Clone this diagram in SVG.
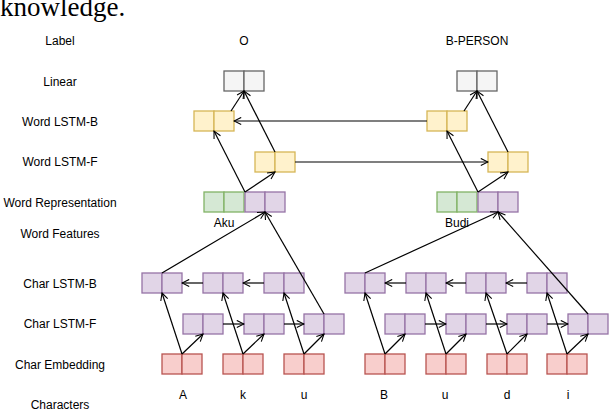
<svg xmlns="http://www.w3.org/2000/svg" width="610" height="410" viewBox="0 0 610 410">
<defs>
<marker id="a" viewBox="0 0 10 10" refX="9" refY="5" markerWidth="9" markerHeight="9" orient="auto" markerUnits="userSpaceOnUse"><path d="M1,1 L9,5 L1,9" fill="none" stroke="#000" stroke-width="1.2"/></marker>
</defs>
<style>
text{font-family:"Liberation Sans",Arial,sans-serif;font-size:12px;fill:#000}
.lab{text-anchor:middle}
rect{stroke-width:1.3}
.g{fill:#f5f5f5;stroke:#666}
.y{fill:#fff2cc;stroke:#d6b656}
.gr{fill:#d5e8d4;stroke:#82b366}
.p{fill:#e1d5e7;stroke:#9673a6}
.r{fill:#f8cecc;stroke:#b85450}
.c path,.c line{stroke:#000;stroke-width:1.2;fill:none;marker-end:url(#a)}
</style>
<rect width="610" height="410" fill="#fff"/>
<text x="0" y="16" style="font-family:'Liberation Serif',serif;font-size:27px">knowledge.</text>
<g id="rowlabels" class="lab">
<text x="60" y="45">Label</text>
<text x="60" y="86">Linear</text>
<text x="60" y="126">Word LSTM-B</text>
<text x="60" y="166">Word LSTM-F</text>
<text x="60" y="207">Word Representation</text>
<text x="60" y="238">Word Features</text>
<text x="60" y="288">Char LSTM-B</text>
<text x="60" y="328">Char LSTM-F</text>
<text x="60" y="369">Char Embedding</text>
<text x="60" y="409">Characters</text>
</g>
<g id="toplabels" class="lab">
<text x="244" y="45">O</text>
<text x="477" y="45">B-PERSON</text>
<text x="224" y="227">Aku</text>
<text x="457" y="227">Budi</text>
</g>
<g id="chars" class="lab">
<text x="183" y="399">A</text><text x="243" y="399">k</text><text x="304" y="399">u</text>
<text x="384" y="399">B</text><text x="445" y="399">u</text><text x="507" y="399">d</text><text x="568" y="399">i</text>
</g>
<g id="linear">
<rect class="g" x="224" y="71" width="20" height="20"/><rect class="g" x="244" y="71" width="20" height="20"/>
<rect class="g" x="457" y="71" width="20" height="20"/><rect class="g" x="477" y="71" width="20" height="20"/>
</g>
<g id="wordB">
<rect class="y" x="194" y="111" width="20" height="20"/><rect class="y" x="214" y="111" width="20" height="20"/>
<rect class="y" x="427" y="111" width="20" height="20"/><rect class="y" x="447" y="111" width="20" height="20"/>
</g>
<g id="wordF">
<rect class="y" x="255" y="152" width="20" height="20"/><rect class="y" x="275" y="152" width="20" height="20"/>
<rect class="y" x="488" y="152" width="20" height="20"/><rect class="y" x="508" y="152" width="20" height="20"/>
</g>
<g id="wordRep">
<rect class="gr" x="204" y="192" width="20" height="20"/><rect class="gr" x="224" y="192" width="20" height="20"/>
<rect class="p" x="245" y="192" width="20" height="20"/><rect class="p" x="265" y="192" width="20" height="20"/>
<rect class="gr" x="437" y="192" width="20" height="20"/><rect class="gr" x="457" y="192" width="20" height="20"/>
<rect class="p" x="478" y="192" width="20" height="20"/><rect class="p" x="498" y="192" width="20" height="20"/>
</g>
<g id="charB">
<rect class="p" x="142" y="273" width="20" height="20"/><rect class="p" x="162" y="273" width="20" height="20"/>
<rect class="p" x="203" y="273" width="20" height="20"/><rect class="p" x="223" y="273" width="20" height="20"/>
<rect class="p" x="264" y="273" width="20" height="20"/><rect class="p" x="284" y="273" width="20" height="20"/>
<rect class="p" x="345" y="273" width="20" height="20"/><rect class="p" x="365" y="273" width="20" height="20"/>
<rect class="p" x="406" y="273" width="20" height="20"/><rect class="p" x="426" y="273" width="20" height="20"/>
<rect class="p" x="466" y="273" width="20" height="20"/><rect class="p" x="486" y="273" width="20" height="20"/>
<rect class="p" x="527" y="273" width="20" height="20"/><rect class="p" x="547" y="273" width="20" height="20"/>
</g>
<g id="charF">
<rect class="p" x="183" y="314" width="20" height="20"/><rect class="p" x="203" y="314" width="20" height="20"/>
<rect class="p" x="244" y="314" width="20" height="20"/><rect class="p" x="264" y="314" width="20" height="20"/>
<rect class="p" x="304" y="314" width="20" height="20"/><rect class="p" x="324" y="314" width="20" height="20"/>
<rect class="p" x="385" y="314" width="20" height="20"/><rect class="p" x="405" y="314" width="20" height="20"/>
<rect class="p" x="446" y="314" width="20" height="20"/><rect class="p" x="466" y="314" width="20" height="20"/>
<rect class="p" x="507" y="314" width="20" height="20"/><rect class="p" x="527" y="314" width="20" height="20"/>
<rect class="p" x="568" y="314" width="20" height="20"/><rect class="p" x="588" y="314" width="20" height="20"/>
</g>
<g id="charEmb">
<rect class="r" x="162" y="354" width="20" height="20"/><rect class="r" x="182" y="354" width="20" height="20"/>
<rect class="r" x="223" y="354" width="20" height="20"/><rect class="r" x="243" y="354" width="20" height="20"/>
<rect class="r" x="284" y="354" width="20" height="20"/><rect class="r" x="304" y="354" width="20" height="20"/>
<rect class="r" x="365" y="354" width="20" height="20"/><rect class="r" x="385" y="354" width="20" height="20"/>
<rect class="r" x="426" y="354" width="20" height="20"/><rect class="r" x="446" y="354" width="20" height="20"/>
<rect class="r" x="487" y="354" width="20" height="20"/><rect class="r" x="507" y="354" width="20" height="20"/>
<rect class="r" x="547" y="354" width="20" height="20"/><rect class="r" x="567" y="354" width="20" height="20"/>
</g>
<g id="connectors" class="c">
<line x1="182" y1="354" x2="203" y2="334"/><line x1="182" y1="354" x2="162" y2="293"/>
<line x1="243" y1="354" x2="264" y2="334"/><line x1="243" y1="354" x2="223" y2="293"/>
<line x1="304" y1="354" x2="324" y2="334"/><line x1="304" y1="354" x2="284" y2="293"/>
<line x1="385" y1="354" x2="405" y2="334"/><line x1="385" y1="354" x2="365" y2="293"/>
<line x1="446" y1="354" x2="466" y2="334"/><line x1="446" y1="354" x2="426" y2="293"/>
<line x1="507" y1="354" x2="527" y2="334"/><line x1="507" y1="354" x2="486" y2="293"/>
<line x1="567" y1="354" x2="588" y2="334"/><line x1="567" y1="354" x2="547" y2="293"/>
<line x1="223" y1="324" x2="244" y2="324"/><line x1="284" y1="324" x2="304" y2="324"/>
<line x1="425" y1="324" x2="446" y2="324"/><line x1="486" y1="324" x2="507" y2="324"/><line x1="547" y1="324" x2="568" y2="324"/>
<line x1="203" y1="283" x2="182" y2="283"/><line x1="264" y1="283" x2="243" y2="283"/>
<line x1="406" y1="283" x2="385" y2="283"/><line x1="466" y1="283" x2="446" y2="283"/><line x1="527" y1="283" x2="506" y2="283"/>
<line x1="324" y1="314" x2="265" y2="212"/><line x1="162" y1="273" x2="265" y2="212"/>
<line x1="588" y1="314" x2="498" y2="212"/><line x1="365" y1="273" x2="498" y2="212"/>
<line x1="245" y1="192" x2="275" y2="172"/><line x1="245" y1="192" x2="214" y2="131"/>
<line x1="478" y1="192" x2="508" y2="172"/><line x1="478" y1="192" x2="447" y2="131"/>
<line x1="275" y1="152" x2="244" y2="91"/><line x1="231" y1="111" x2="244" y2="91"/>
<line x1="508" y1="152" x2="477" y2="91"/><line x1="464" y1="111" x2="477" y2="91"/>
<line x1="295" y1="162" x2="488" y2="162"/><line x1="427" y1="121" x2="234" y2="121"/>
</g>
</svg>
